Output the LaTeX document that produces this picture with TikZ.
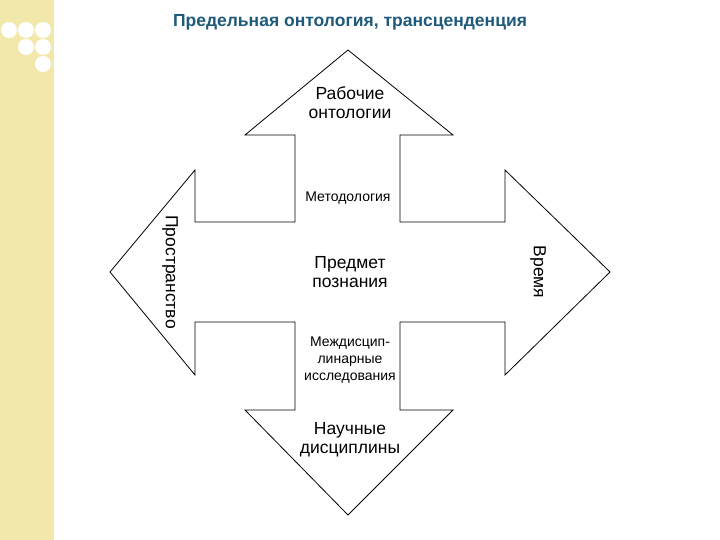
\documentclass[tikz,border=0pt]{standalone}
\usepackage{fontspec}
\setmainfont{Liberation Sans}
\definecolor{strip}{HTML}{F2E8AC}
\definecolor{ttl}{HTML}{1F5A7A}
\begin{document}
\begin{tikzpicture}[x=1pt,y=-1pt,
  lbl/.style={font=\fontsize{17.5}{19}\selectfont,align=center},
  small/.style={font=\fontsize{14}{16}\selectfont,align=center}]
\useasboundingbox (0,0) rectangle (720,540);
\fill[strip] (0,0) rectangle (54,540);
\foreach \p in {(9,30),(26,30),(43,30),(26,47),(43,47),(43,64)} \fill[white] \p circle (8);
\node[font=\bfseries\fontsize{17.5}{19}\selectfont,text=ttl] (title) at (350,22) {Предельная онтология, трансценденция};
\draw[line width=0.8pt,line join=miter] (348,50) -- (453,135) -- (400,135) -- (400,222) -- (505,222) -- (505,170) -- (610,272) -- (505,375) -- (505,322) -- (400,322) -- (400,410) -- (453,410) -- (348,515) -- (245,410) -- (295,410) -- (295,322) -- (195,322) -- (195,375) -- (110,272) -- (195,170) -- (195,222) -- (295,222) -- (295,135) -- (245,135) -- cycle;
\node[lbl] (rab) at (350,103) {Рабочие\\онтологии};
\node[small] (met) at (348,198) {Методология};
\node[lbl,rotate=-90] (pro) at (170,272) {Пространство};
\node[lbl,rotate=-90] (vre) at (538,272) {Время};
\node[lbl] (pre) at (350,272) {Предмет\\познания};
\node[small,font=\fontsize{14}{17}\selectfont] (mej) at (350,360) {Междисцип-\\линарные\\исследования};
\node[lbl] (nau) at (350,440) {Научные\\дисциплины};
\end{tikzpicture}
\end{document}
